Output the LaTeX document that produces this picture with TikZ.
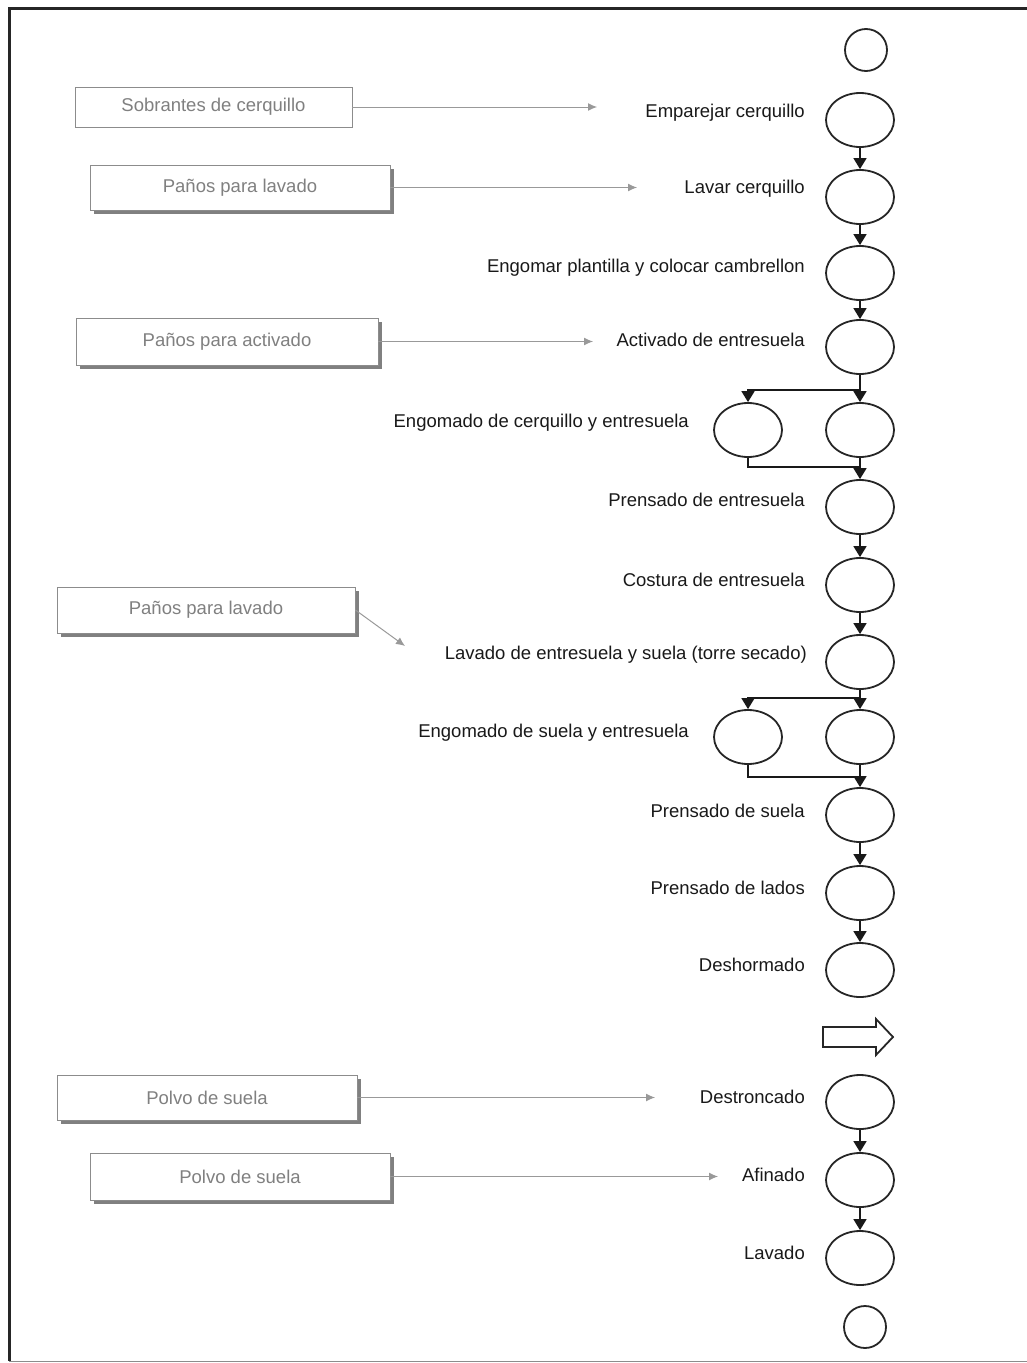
\documentclass[tikz,border=0pt]{standalone}
\usepackage{fontspec}
\setmainfont{Liberation Sans}
\usetikzlibrary{shapes.geometric,arrows.meta,shadows}

\begin{document}
\begin{tikzpicture}[x=1pt,y=-1pt,
  proc/.style={ellipse,draw=black!85,line width=1.8pt,minimum width=68pt,minimum height=54pt,inner sep=0pt},
  term/.style={circle,draw=black!85,line width=1.8pt,minimum size=42pt,inner sep=0pt},
  lbl/.style={anchor=east,font=\fontsize{18.5}{22}\selectfont,text=black!90,inner sep=0pt},
  flow/.style={draw=black!90,line width=1.6pt,-{Triangle[width=13pt,length=11pt]}},
  link/.style={draw=black!90,line width=1.6pt},
  matbox/.style={draw=black!45,line width=0.8pt,fill=white,inner sep=0pt,font=\fontsize{18.5}{22}\selectfont,text=black!50},
  shad/.style={drop shadow={shadow xshift=4pt,shadow yshift=-4pt,fill=black!50,opacity=1}},
  feed/.style={draw=black!40,line width=1pt,-{Latex[length=9pt,width=8pt]}}
]
\useasboundingbox (0,0) rectangle (1026,1363);

% page frame (right side runs off the page)
\draw[line width=3pt,black!85] (1060,8) -- (9,8) -- (9,1361);
\draw[line width=1pt,black!45] (9,1361) -- (1060,1361);

% main process column
\node[term] (s0) at (866,50) {};
\node[proc] (a1) at (860,120) {};
\node[proc] (a2) at (860,197) {};
\node[proc] (a3) at (860,273) {};
\node[proc] (a4) at (860,347) {};
\node[proc] (c1l) at (748,430) {};
\node[proc] (c1r) at (860,430) {};
\node[proc] (a5) at (860,507) {};
\node[proc] (a6) at (860,585) {};
\node[proc] (a7) at (860,662) {};
\node[proc] (c2l) at (748,737) {};
\node[proc] (c2r) at (860,737) {};
\node[proc] (a8) at (860,815) {};
\node[proc] (a9) at (860,893) {};
\node[proc] (a10) at (860,970) {};
\node[proc] (a11) at (860,1102) {};
\node[proc] (a12) at (860,1180) {};
\node[proc] (a13) at (860,1258) {};
\node[term] (s1) at (865,1327) {};

% transport arrow
\draw[line width=1.8pt,black!85,fill=white]
  (823,1027) -- (876,1027) -- (876,1019) -- (893,1037) -- (876,1055) -- (876,1047) -- (823,1047) -- cycle;

% step labels
\node[lbl] (l1) at (805,113) {Emparejar cerquillo};
\node[lbl] (l2) at (805,189) {Lavar cerquillo};
\node[lbl] (l3) at (805,268) {Engomar plantilla y colocar cambrellon};
\node[lbl] (l4) at (805,340) {Activado de entresuela};
\node[lbl] (l5) at (689,423) {Engomado de cerquillo y entresuela};
\node[lbl] (l6) at (805,500) {Prensado de entresuela};
\node[lbl] (l7) at (805,580) {Costura de entresuela};
\node[lbl] (l8) at (807,655) {Lavado de entresuela y suela (torre secado)};
\node[lbl] (l9) at (689,733) {Engomado de suela y entresuela};
\node[lbl] (l10) at (805,811) {Prensado de suela};
\node[lbl] (l11) at (805,888) {Prensado de lados};
\node[lbl] (l12) at (805,965) {Deshormado};
\node[lbl] (l13) at (805,1097) {Destroncado};
\node[lbl] (l14) at (805,1175) {Afinado};
\node[lbl] (l15) at (805,1253) {Lavado};

% flow connectors
\draw[flow] (a1) -- (a2);
\draw[flow] (a2) -- (a3);
\draw[flow] (a3) -- (a4);
\coordinate (j1) at (860,390);
\coordinate (m1) at (860,467);
\draw[flow] (a4) -- (c1r);
\draw[flow] (j1) -| (c1l);
\draw[link] (c1l) |- (m1);
\draw[flow] (c1r) -- (a5);
\draw[flow] (a5) -- (a6);
\draw[flow] (a6) -- (a7);
\coordinate (j2) at (860,698);
\coordinate (m2) at (860,777);
\draw[flow] (a7) -- (c2r);
\draw[flow] (j2) -| (c2l);
\draw[link] (c2l) |- (m2);
\draw[flow] (c2r) -- (a8);
\draw[flow] (a8) -- (a9);
\draw[flow] (a9) -- (a10);
\draw[flow] (a11) -- (a12);
\draw[flow] (a12) -- (a13);

% material inputs
\node[matbox,minimum width=277pt,minimum height=40pt] (b1) at (213.5,107) {Sobrantes de cerquillo};
\node[matbox,shad,minimum width=300pt,minimum height=45pt] (b2) at (240,187.5) {Paños para lavado};
\node[matbox,shad,minimum width=302pt,minimum height=47pt] (b3) at (227,341.5) {Paños para activado};
\node[matbox,shad,minimum width=298pt,minimum height=46pt] (b4) at (206,610) {Paños para lavado};
\node[matbox,shad,minimum width=300pt,minimum height=45pt] (b5) at (207,1097.5) {Polvo de suela};
\node[matbox,shad,minimum width=300pt,minimum height=47pt] (b6) at (240,1176.5) {Polvo de suela};

\coordinate (e1) at (597,107);
\coordinate (e2) at (637,187.5);
\coordinate (e3) at (593,341.5);
\coordinate (e4) at (405,646);
\coordinate (e5) at (655,1097.5);
\coordinate (e6) at (718,1176.5);
\draw[feed] (b1) -- (e1);
\draw[feed] (b2) -- (e2);
\draw[feed] (b3) -- (e3);
\draw[feed] (b4.east) -- (e4);
\draw[feed] (b5) -- (e5);
\draw[feed] (b6) -- (e6);
\end{tikzpicture}
\end{document}
